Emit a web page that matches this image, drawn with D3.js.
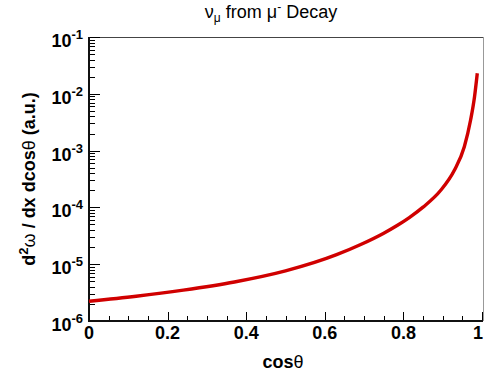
<!DOCTYPE html>
<html>
<head>
<meta charset="utf-8">
<script src="https://cdn.jsdelivr.net/npm/d3@7"></script>
<style>
  html, body { margin: 0; padding: 0; background: #fff; }
  svg { display: block; }
  text { font-family: "Liberation Sans", Arial, sans-serif; }
</style>
</head>
<body>
<svg id="chart" width="484" height="377"></svg>
<script>
// cos(theta) sample points and the distribution value at each
const cosTheta = [0, 0.12, 0.24, 0.37, 0.5, 0.63, 0.69, 0.75, 0.785, 0.815, 0.85, 0.895, 0.93, 0.955, 0.971, 0.981, 0.988];
const dist = [2.22e-6, 2.73e-6, 3.5e-6, 4.86e-6, 7.62e-6, 1.47e-5, 2.2e-5, 3.52e-5, 4.85e-5, 6.62e-5, 1.01e-4, 2.0e-4, 4.55e-4, 1.17e-3, 3.46e-3, 8.89e-3, 2.3e-2];

const xTicks = [0, 0.2, 0.4, 0.6, 0.8, 1];
const xTickLabels = ["0", "0.2", "0.4", "0.6", "0.8", "1"];
const yExponents = [-6, -5, -4, -3, -2, -1];

const svg = d3.select("#chart");
const L = 89, R = 482, T = 37, B = 321;

const x = d3.scaleLinear().domain([0, 1]).range([L, R]);
const y = d3.scaleLog().domain([1e-6, 1e-1]).range([B, T]);

// frame: top and right edges
svg.append("line").attr("x1", L).attr("x2", R + 1).attr("y1", T + 0.5).attr("y2", T + 0.5)
  .attr("stroke", "#444").attr("stroke-width", 1.2);
svg.append("line").attr("x1", R + 1.5).attr("x2", R + 1.5).attr("y1", T).attr("y2", B)
  .attr("stroke", "#999").attr("stroke-width", 1);

// x axis ticks: major every 0.2, minor every 0.05 (drawn inward)
const xMinor = d3.range(0, 1.0001, 0.05);
svg.append("g").selectAll("line").data(xMinor).join("line")
  .attr("x1", d => Math.round(x(d)) + 0.5).attr("x2", d => Math.round(x(d)) + 0.5)
  .attr("y1", B).attr("y2", d => (Math.abs(d * 5 - Math.round(d * 5)) < 1e-6) ? B - 9 : B - 5)
  .attr("stroke", "#000").attr("stroke-width", 1);

// y axis ticks: decades and 2..9 minors (drawn inward)
const yMinor = [];
for (let e = -6; e < -1 + 0.5; e++) {
  for (let m = 1; m <= 9; m++) {
    const v = m * Math.pow(10, e);
    if (v <= 1e-1 * 1.0001) yMinor.push({ v, major: m === 1 });
  }
}
svg.append("g").selectAll("line").data(yMinor).join("line")
  .attr("x1", L).attr("x2", d => d.major ? L + 11 : L + 6)
  .attr("y1", d => Math.round(y(d.v)) + 0.5).attr("y2", d => Math.round(y(d.v)) + 0.5)
  .attr("stroke", "#000").attr("stroke-width", 1);

// axis lines
svg.append("line").attr("x1", L).attr("x2", L).attr("y1", T).attr("y2", B + 1)
  .attr("stroke", "#111").attr("stroke-width", 2);
svg.append("line").attr("x1", L - 1).attr("x2", R + 1).attr("y1", B).attr("y2", B)
  .attr("stroke", "#111").attr("stroke-width", 2);

// x tick labels (last one nudged to stay inside the canvas)
svg.append("g").selectAll("text").data(xTicks).join("text")
  .attr("x", d => Math.min(x(d), 478)).attr("y", 339)
  .attr("text-anchor", "middle")
  .attr("font-size", 18).attr("font-weight", "bold")
  .text((d, i) => xTickLabels[i]);

// y tick labels: 10^n
const yl = svg.append("g").selectAll("text").data(yExponents).join("text")
  .attr("x", 83).attr("y", d => y(Math.pow(10, d)) + 10)
  .attr("text-anchor", "end")
  .attr("font-size", 18).attr("font-weight", "bold");
yl.append("tspan").text("10");
yl.append("tspan").attr("dy", -8).attr("font-size", 13).text(d => String(d));

// the distribution curve
const line = d3.line()
  .x((d, i) => x(cosTheta[i]))
  .y(d => y(d))
  .curve(d3.curveMonotoneX);
svg.append("path").datum(dist)
  .attr("d", line)
  .attr("fill", "none")
  .attr("stroke", "#d00000")
  .attr("stroke-width", 3.4)
  .attr("stroke-linejoin", "round");

// title
const title = svg.append("text").attr("x", 271).attr("y", 18)
  .attr("text-anchor", "middle").attr("font-size", 18);
title.append("tspan").text("ν");
title.append("tspan").attr("dy", 4).attr("font-size", 12).text("μ");
title.append("tspan").attr("dy", -4).text(" from μ");
title.append("tspan").attr("dy", -7).attr("font-size", 12).text("-");
title.append("tspan").attr("dy", 7).text(" Decay");

// x axis title
const xt = svg.append("text").attr("x", 283).attr("y", 368)
  .attr("text-anchor", "middle").attr("font-size", 18).attr("font-weight", "bold");
xt.append("tspan").text("cos");
xt.append("tspan").attr("font-weight", "normal").text("θ");

// y axis title
const yt = svg.append("text")
  .attr("transform", `translate(35, ${(T + B) / 2}) rotate(-90)`)
  .attr("text-anchor", "middle").attr("font-size", 18).attr("font-weight", "bold");
yt.append("tspan").text("d");
yt.append("tspan").attr("dy", -7).attr("font-size", 13).text("2");
yt.append("tspan").attr("dy", 7).attr("font-weight", "normal").text("ω");
yt.append("tspan").text(" / dx dcos");
yt.append("tspan").attr("font-weight", "normal").text("θ");
yt.append("tspan").text(" (a.u.)");
</script>
</body>
</html>
